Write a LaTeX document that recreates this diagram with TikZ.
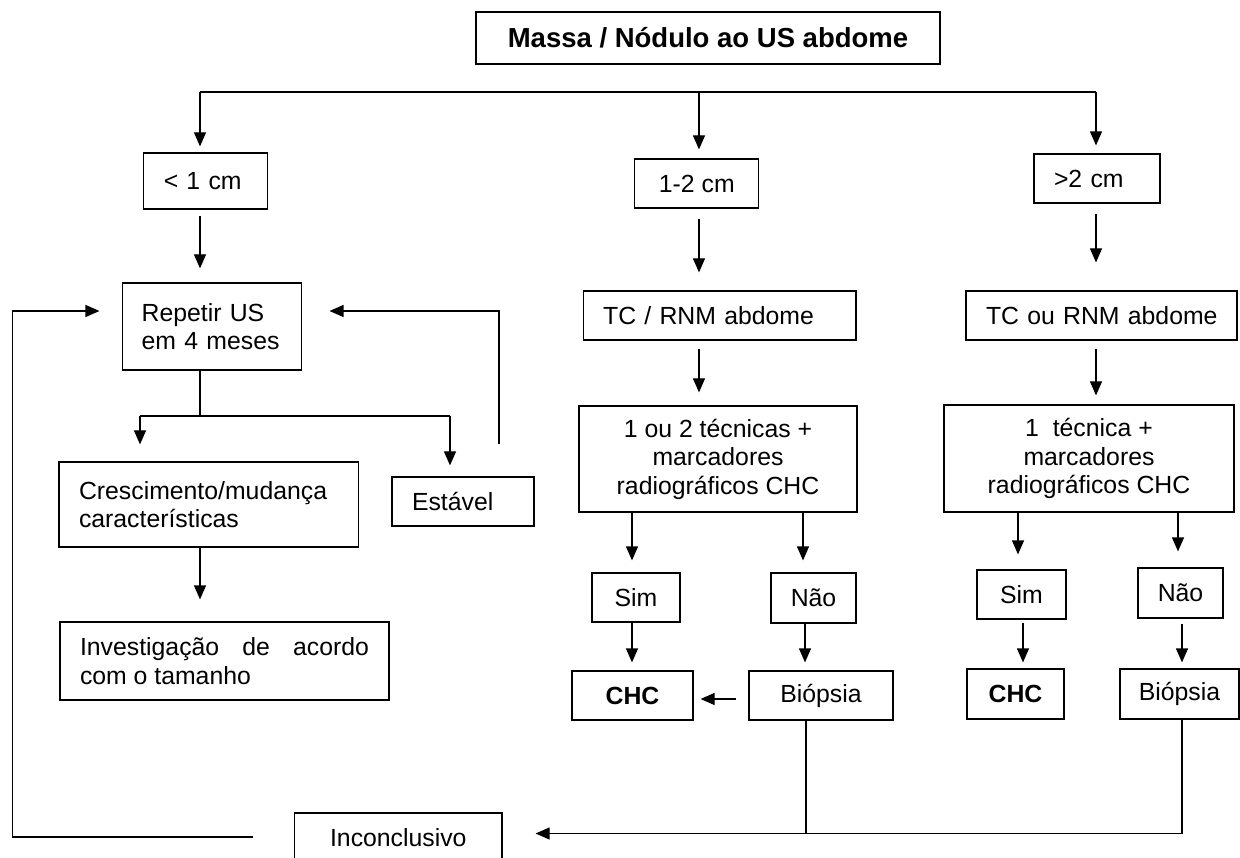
\documentclass[tikz,border=0pt]{standalone}
\usepackage{fontspec}
\setmainfont{Liberation Sans}
\usetikzlibrary{arrows.meta}
\begin{document}
\begin{tikzpicture}[x=1pt,y=-1pt,
  every node/.style={font=\fontsize{24.8}{28.5}\selectfont},
  box/.style={draw, line width=1.2pt, inner ysep=2pt, inner xsep=2pt},
  arr/.style={line width=1.2pt, -{Triangle[width=12pt,length=14pt]}},
  ln/.style={line width=1.2pt},
  bld/.style={font=\fontsize{24.8}{28.5}\selectfont\bfseries}
]
\useasboundingbox (0,0) rectangle (1240,858);

% nodes
\node[box, minimum width=464pt, minimum height=52pt, font=\fontsize{27.5}{31}\selectfont\bfseries] (title) at (708,38) {Massa / Nódulo ao US abdome};
\node[box, text width=83pt, inner xsep=20.5pt, align=left, minimum height=56pt] (lt1) at (205.25,181) {\mbox{< 1 cm}};
\node[box, minimum width=124pt, minimum height=49pt, align=center] (r12) at (696.8,183.5) {1-2 cm};
\node[box, text width=86pt, inner xsep=20pt, align=left, minimum height=49pt] (gt2) at (1097,178.5) {\mbox{>2 cm}};
\node[box, text width=141pt, inner xsep=19pt, align=left, minimum height=87pt] (rep) at (212.15,326.5) {\mbox{Repetir US}\\\mbox{em 4 meses}};
\node[box, text width=233.4pt, inner xsep=19.5pt, align=left, minimum height=49pt] (tc1) at (719.8,315.5) {\mbox{TC / RNM abdome}};
\node[box, text width=231pt, inner xsep=20pt, align=left, minimum height=49pt] (tc2) at (1101.5,315.5) {\mbox{TC ou RNM abdome}};
\node[box, minimum width=278pt, minimum height=106pt, align=center] (tec1) at (718,459) {1 ou 2 técnicas +\\marcadores\\radiográficos CHC};
\node[box, minimum width=290pt, minimum height=107pt, align=center] (tec2) at (1089,458.5) {1\ \ técnica +\\marcadores\\radiográficos CHC};
\node[box, text width=259.6pt, inner xsep=20pt, align=left, minimum height=85pt] (cresc) at (208.8,504.5) {\mbox{Crescimento/mudança}\\\mbox{características}};
\node[box, text width=102pt, inner xsep=20pt, align=left, minimum height=49pt] (est) at (463,501.5) {\mbox{Estável}};
\node[box, text width=289pt, inner xsep=20pt, align=justify, minimum height=78pt] (inv) at (224.5,661) {Investigação de acordo\linebreak com o tamanho};
\node[box, minimum width=88pt, minimum height=49pt] (simA) at (636,597.5) {Sim};
\node[box, minimum width=85pt, minimum height=50pt] (naoA) at (813.5,598) {Não};
\node[box, bld, minimum width=121pt, minimum height=49pt] (chcA) at (632.5,695.5) {CHC};
\node[box, minimum width=144pt, minimum height=49pt] (bioA) at (821,695.5) {Biópsia};
\node[box, minimum width=89pt, minimum height=49pt] (simB) at (1021.5,594.5) {Sim};
\node[box, minimum width=85pt, minimum height=50pt] (naoB) at (1180.5,593) {Não};
\node[box, bld, minimum width=97pt, minimum height=50pt] (chcB) at (1015.5,694) {CHC};
\node[box, minimum width=119pt, minimum height=50pt] (bioB) at (1179.5,694) {Biópsia};
\node[box, minimum width=207.4pt, minimum height=49pt] (incon) at (398.3,837.5) {Inconclusivo};

% helper coordinates
\coordinate (xA) at (200,0);
\coordinate (xM) at (699,0);
\coordinate (xR) at (1096,0);
\coordinate (yTop) at (0,92);
\coordinate (yBr) at (0,416);
\coordinate (xC) at (140,0);
\coordinate (xE) at (450,0);
\coordinate (xLp) at (499,0);
\coordinate (yLoop) at (0,311);
\coordinate (xS1) at (632,0);
\coordinate (xN1) at (803,0);
\coordinate (xN1b) at (805,0);
\coordinate (xB1) at (806,0);
\coordinate (xS2) at (1018,0);
\coordinate (xS2b) at (1023,0);
\coordinate (xN2) at (1178,0);
\coordinate (xB2) at (1182,0);
\coordinate (yBot) at (0,833.5);
\coordinate (yLB) at (0,837);
\coordinate (xL) at (12.7,0);
\coordinate (yCB) at (0,699);

% connectors
\draw[ln] (xA |- yTop) -- (xR |- yTop);
\draw[arr, shorten >=6pt] (xA |- yTop) -- (lt1.north -| xA);
\draw[arr, shorten >=9pt] (xM |- yTop) -- (r12.north -| xM);
\draw[arr, shorten >=8pt] (xR |- yTop) -- (gt2.north -| xR);
\draw[arr, shorten <=6pt, shorten >=14pt] (lt1.south -| xA) -- (rep.north -| xA);
\draw[ln] (rep.south -| xA) -- (xA |- yBr);
\draw[ln] (xC |- yBr) -- (xE |- yBr);
\draw[arr, shorten >=17pt] (xC |- yBr) -- (cresc.north -| xC);
\draw[arr, shorten >=11pt] (xE |- yBr) -- (est.north -| xE);
\draw[arr, shorten <=32pt, shorten >=27.3pt] (est.north -| xLp) |- (rep.east |- yLoop);
\draw[arr, shorten >=22pt] (cresc.south -| xA) -- (inv.north -| xA);
\draw[arr, shorten <=10pt, shorten >=18pt] (r12.south -| xM) -- (tc1.north -| xM);
\draw[arr, shorten <=8pt, shorten >=13pt] (tc1.south -| xM) -- (tec1.north -| xM);
\draw[arr, shorten <=10pt, shorten >=28pt] (gt2.south -| xR) -- (tc2.north -| xR);
\draw[arr, shorten <=8pt, shorten >=9pt] (tc2.south -| xR) -- (tec2.north -| xR);
\draw[arr, shorten >=12pt] (tec1.south -| xS1) -- (simA.north -| xS1);
\draw[arr, shorten >=12pt] (tec1.south -| xN1) -- (naoA.north -| xN1);
\draw[arr, shorten >=8pt] (simA.south -| xS1) -- (chcA.north -| xS1);
\draw[arr, shorten >=8pt] (naoA.south -| xN1b) -- (bioA.north -| xN1b);
\draw[arr, shorten <=12pt, shorten >=7pt] (bioA.west |- yCB) -- (chcA.east |- yCB);
\draw[arr, shorten >=15pt] (tec2.south -| xS2) -- (simB.north -| xS2);
\draw[arr, shorten >=16pt] (tec2.south -| xN2) -- (naoB.north -| xN2);
\draw[arr, shorten <=3pt, shorten >=6pt] (simB.south -| xS2b) -- (chcB.north -| xS2b);
\draw[arr, shorten <=5pt, shorten >=6pt] (naoB.south -| xB2) -- (bioB.north -| xB2);
\draw[ln] (bioA.south -| xB1) -- (xB1 |- yBot);
\draw[arr, shorten >=33pt] (bioB.south -| xB2) |- (incon.east |- yBot);
\draw[arr, shorten <=40.6pt, shorten >=22.6pt] (incon.west |- yLB) -- (xL |- yLB) -- (xL |- yLoop) -- (rep.west |- yLoop);
\end{tikzpicture}
\end{document}
